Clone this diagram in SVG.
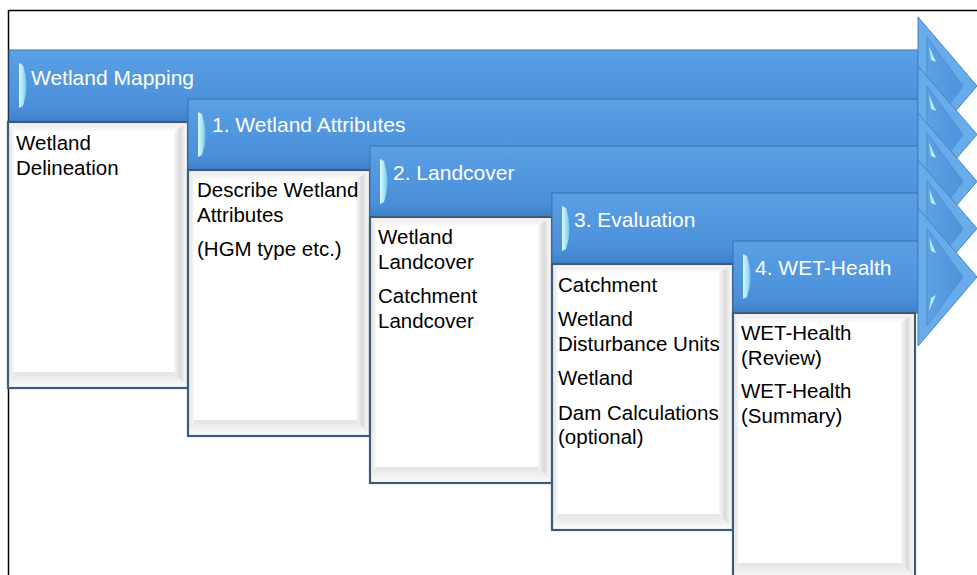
<svg xmlns="http://www.w3.org/2000/svg" width="977" height="575" viewBox="0 0 977 575">
<defs>
  <linearGradient id="shaft" x1="0" y1="0" x2="0" y2="1">
    <stop offset="0" stop-color="#5CA1E5"/>
    <stop offset="0.2" stop-color="#579CE2"/>
    <stop offset="0.8" stop-color="#4A90D9"/>
    <stop offset="1" stop-color="#3E80C9"/>
  </linearGradient>
  <linearGradient id="headface" x1="0" y1="0" x2="1" y2="0">
    <stop offset="0" stop-color="#5CA1E3"/>
    <stop offset="1" stop-color="#4D93DA"/>
  </linearGradient>
  <linearGradient id="sliver" x1="0" y1="0" x2="1" y2="0">
    <stop offset="0" stop-color="#DDF9FF"/>
    <stop offset="0.5" stop-color="#A8E6F8"/>
    <stop offset="1" stop-color="#72C4EC"/>
  </linearGradient>
  <linearGradient id="bvTop" x1="0" y1="0" x2="0" y2="1">
    <stop offset="0" stop-color="#FFFFFF"/>
    <stop offset="0.4" stop-color="#EEEEEE"/>
    <stop offset="1" stop-color="#FCFCFC"/>
  </linearGradient>
  <linearGradient id="bvLeft" x1="0" y1="0" x2="1" y2="0">
    <stop offset="0" stop-color="#FAFAFA"/>
    <stop offset="0.5" stop-color="#E8E8E8"/>
    <stop offset="1" stop-color="#FBFBFB"/>
  </linearGradient>
  <linearGradient id="bvRight" x1="0" y1="0" x2="1" y2="0">
    <stop offset="0" stop-color="#F8F8F8"/>
    <stop offset="0.45" stop-color="#D9D9D9"/>
    <stop offset="0.6" stop-color="#E6E6E6"/>
    <stop offset="1" stop-color="#FFFFFF"/>
  </linearGradient>
  <linearGradient id="bvBottom" x1="0" y1="0" x2="0" y2="1">
    <stop offset="0" stop-color="#E4E4E4"/>
    <stop offset="0.6" stop-color="#F2F2F2"/>
    <stop offset="1" stop-color="#FFFFFF"/>
  </linearGradient>
  <style>
    .frame{fill:none;stroke:#000;stroke-width:1.5}
    .shaft{fill:url(#shaft);stroke:#3A70AC;stroke-width:1}
    .headOut{fill:#68ACEA;stroke:#4582C5;stroke-width:1}
    .headIn{fill:url(#headface);stroke:#4C8BCF;stroke-width:0.8}
    .sliver{fill:url(#sliver)}
    .streak{fill:#B8EEFB}
    .boxbg{fill:#FFFFFF}
    .bt{fill:url(#bvTop)}
    .bl{fill:url(#bvLeft)}
    .br{fill:url(#bvRight)}
    .bb{fill:url(#bvBottom)}
    .boxline{fill:none;stroke:#3D5A78;stroke-width:2.2}
    .atext{font-family:"Liberation Sans",Arial,sans-serif;font-size:21px;fill:#FFFFFF}
    .btext{font-family:"Liberation Sans",Arial,sans-serif;font-size:20.5px;fill:#000000}
  </style>
</defs>
<rect width="977" height="575" fill="#FFFFFF"/>
<path class="frame" d="M8.5,575 V10.5 H977"/>

<g id="stage1">
  <g id="arrow1">
    <rect class="shaft" x="9" y="50" width="909" height="72"/>
    <polygon class="headOut" points="918,17 977,86 918,155"/>
    <polygon class="headIn" points="927,37 963,86 927,135"/>
    <path class="streak" d="M929,46 L936,62 L931,60 Z"/>
    <path class="streak" d="M929,120 L936,104 L931,107 Z"/>
    <path class="sliver" d="M19,63 L23,65 Q30,86 23,106 L19,108 Z"/>
    <text class="atext" x="31" y="85">Wetland Mapping</text>
  </g>
  <g id="box1">
    <rect class="boxbg" x="8" y="122" width="180" height="266"/>
    <polygon class="bt" points="8,122 188,122 174,131 14,131"/>
    <polygon class="bl" points="8,122 14,131 14,372 8,388"/>
    <polygon class="br" points="188,122 188,388 174,372 174,131"/>
    <polygon class="bb" points="8,388 188,388 174,372 14,372"/>
    <rect class="boxline" x="8" y="122" width="180" height="266"/>
    <text class="btext" x="16" y="150">Wetland</text>
    <text class="btext" x="16" y="175">Delineation</text>
  </g>
</g>

<g id="stage2">
  <g id="arrow2">
    <rect class="shaft" x="188" y="99" width="730" height="71"/>
    <polygon class="headOut" points="918,66 977,134.5 918,203"/>
    <polygon class="headIn" points="927,86 963,134.5 927,183"/>
    <path class="streak" d="M929,95 L936,111 L931,109 Z"/>
    <path class="streak" d="M929,168 L936,152 L931,155 Z"/>
    <path class="sliver" d="M198,112 L202,114 Q209,135 202,155 L198,157 Z"/>
    <text class="atext" x="212" y="132">1. Wetland Attributes</text>
  </g>
  <g id="box2">
    <rect class="boxbg" x="188" y="170" width="182" height="266"/>
    <polygon class="bt" points="188,170 370,170 356,179 194,179"/>
    <polygon class="bl" points="188,170 194,179 194,420 188,436"/>
    <polygon class="br" points="370,170 370,436 356,420 356,179"/>
    <polygon class="bb" points="188,436 370,436 356,420 194,420"/>
    <rect class="boxline" x="188" y="170" width="182" height="266"/>
    <text class="btext" x="197" y="197">Describe Wetland</text>
    <text class="btext" x="197" y="222">Attributes</text>
    <text class="btext" x="197" y="256">(HGM type etc.)</text>
  </g>
</g>

<g id="stage3">
  <g id="arrow3">
    <rect class="shaft" x="370" y="146" width="548" height="71"/>
    <polygon class="headOut" points="918,113 977,181.5 918,250"/>
    <polygon class="headIn" points="927,133 963,181.5 927,230"/>
    <path class="streak" d="M929,142 L936,158 L931,156 Z"/>
    <path class="streak" d="M929,215 L936,199 L931,202 Z"/>
    <path class="sliver" d="M380,159 L384,161 Q391,182 384,202 L380,204 Z"/>
    <text class="atext" x="393" y="180">2. Landcover</text>
  </g>
  <g id="box3">
    <rect class="boxbg" x="370" y="217" width="182" height="266"/>
    <polygon class="bt" points="370,217 552,217 538,226 376,226"/>
    <polygon class="bl" points="370,217 376,226 376,467 370,483"/>
    <polygon class="br" points="552,217 552,483 538,467 538,226"/>
    <polygon class="bb" points="370,483 552,483 538,467 376,467"/>
    <rect class="boxline" x="370" y="217" width="182" height="266"/>
    <text class="btext" x="378" y="244">Wetland</text>
    <text class="btext" x="378" y="269">Landcover</text>
    <text class="btext" x="378" y="303">Catchment</text>
    <text class="btext" x="378" y="328">Landcover</text>
  </g>
</g>

<g id="stage4">
  <g id="arrow4">
    <rect class="shaft" x="552" y="193" width="366" height="71"/>
    <polygon class="headOut" points="918,160 977,228.5 918,297"/>
    <polygon class="headIn" points="927,180 963,228.5 927,277"/>
    <path class="streak" d="M929,189 L936,205 L931,203 Z"/>
    <path class="streak" d="M929,262 L936,246 L931,249 Z"/>
    <path class="sliver" d="M562,206 L566,208 Q573,229 566,249 L562,251 Z"/>
    <text class="atext" x="574" y="227">3. Evaluation</text>
  </g>
  <g id="box4">
    <rect class="boxbg" x="552" y="264" width="181" height="266"/>
    <polygon class="bt" points="552,264 733,264 719,273 558,273"/>
    <polygon class="bl" points="552,264 558,273 558,514 552,530"/>
    <polygon class="br" points="733,264 733,530 719,514 719,273"/>
    <polygon class="bb" points="552,530 733,530 719,514 558,514"/>
    <rect class="boxline" x="552" y="264" width="181" height="266"/>
    <text class="btext" x="558" y="292">Catchment</text>
    <text class="btext" x="558" y="326">Wetland</text>
    <text class="btext" x="558" y="351">Disturbance Units</text>
    <text class="btext" x="558" y="385">Wetland</text>
    <text class="btext" x="558" y="420">Dam Calculations</text>
    <text class="btext" x="558" y="444">(optional)</text>
  </g>
</g>

<g id="stage5">
  <g id="arrow5">
    <rect class="shaft" x="733" y="241" width="185" height="72"/>
    <polygon class="headOut" points="918,208 977,277 918,346"/>
    <polygon class="headIn" points="927,228 963,277 927,326"/>
    <path class="streak" d="M929,237 L936,253 L931,251 Z"/>
    <path class="streak" d="M929,311 L936,295 L931,298 Z"/>
    <path class="sliver" d="M743,254 L747,256 Q754,277 747,297 L743,299 Z"/>
    <text class="atext" x="755" y="275">4. WET-Health</text>
  </g>
  <g id="box5">
    <rect class="boxbg" x="733" y="313" width="182" height="266"/>
    <polygon class="bt" points="733,313 915,313 901,322 739,322"/>
    <polygon class="bl" points="733,313 739,322 739,563 733,579"/>
    <polygon class="br" points="915,313 915,579 901,563 901,322"/>
    <polygon class="bb" points="733,579 915,579 901,563 739,563"/>
    <rect class="boxline" x="733" y="313" width="182" height="266"/>
    <text class="btext" x="741" y="340">WET-Health</text>
    <text class="btext" x="741" y="365">(Review)</text>
    <text class="btext" x="741" y="398">WET-Health</text>
    <text class="btext" x="741" y="423">(Summary)</text>
  </g>
</g>
</svg>
